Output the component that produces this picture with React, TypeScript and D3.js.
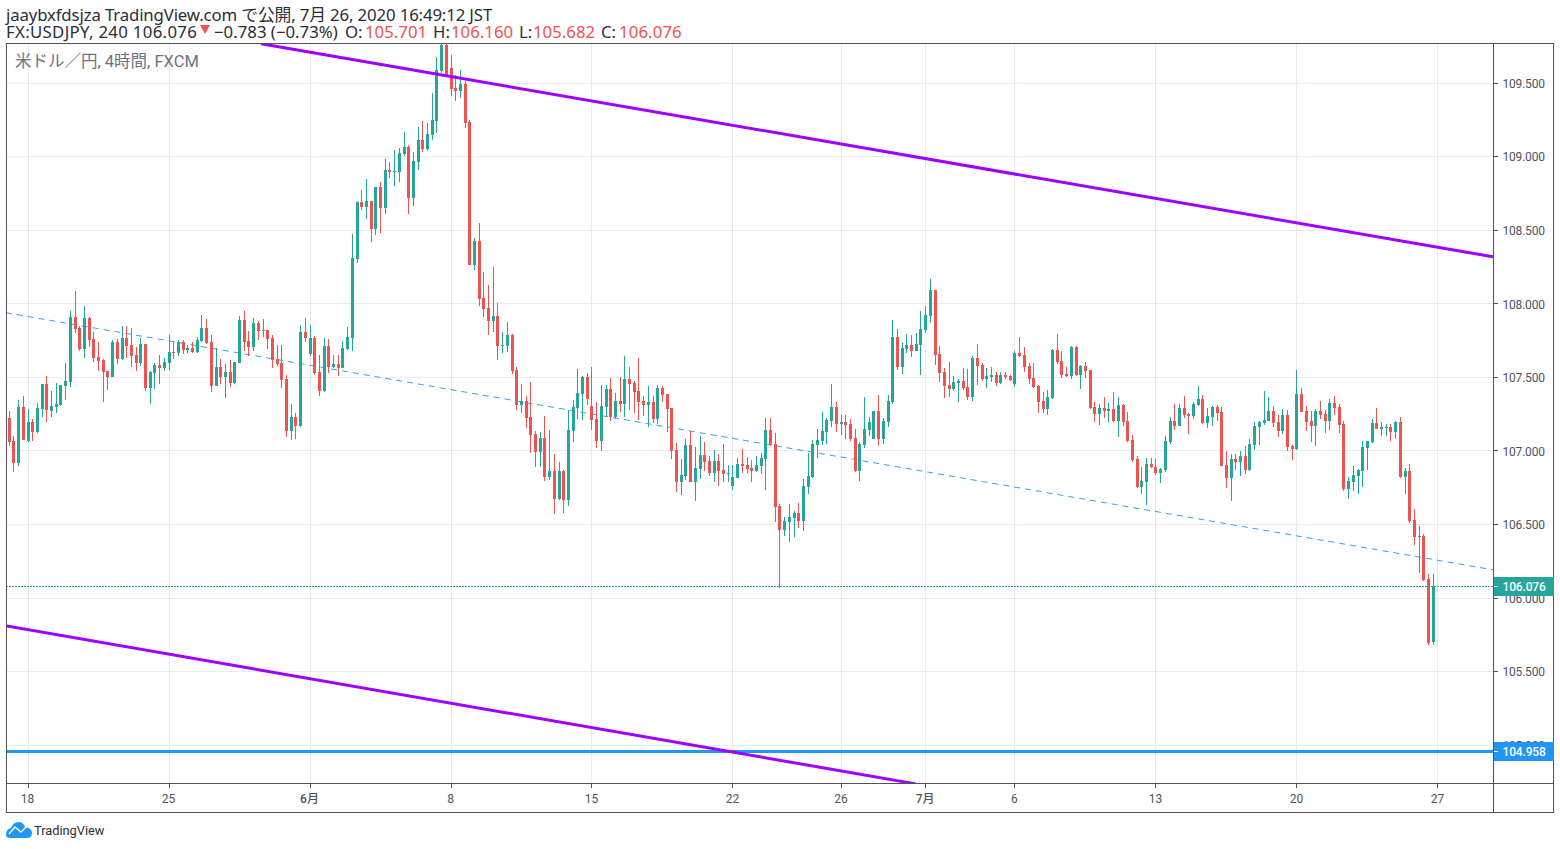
import React from "react";
import * as d3 from "d3";

const directions = (
  "rrgrgrggrg" + "ggggrrgrrr" + "rrgrgrrrgr" + "ggrggrgrgr" + "ggrrgrgrgg" +
  "rrgrgrrrrr" + "grgrgrrgrg" + "rggggrgrgr" + "grgggrggrg" + "gggrrrgrrg" +
  "rrrgrggrrg" + "rrrgrgrgrg" + "gggrrrggrg" + "rgrrrrgrgr" + "rrrggrggrr" +
  "grrgggrrrg" + "ggrrrgggrg" + "ggggggrgrr" + "rggggrgggr" + "ggrggggrrr" +
  "rggrrgrrgg" + "rgrrgrrrrr" + "rggrrrgrgr" + "rrgrgrgrrr" + "rggrrgggrg" +
  "rrggrggrrr" + "grgrgggggr" + "rgrrgrrrgr" + "rgrrrggggg" + "grggrgrgrr" + "grrg"
).split("");

const highs = [
  107.272,107.103,107.347,107.374,107.286,107.218,107.327,107.456,107.510,107.408,
  107.463,107.449,107.599,107.952,108.088,107.850,107.986,107.911,107.810,107.742,
  107.626,107.544,107.755,107.762,107.850,107.850,107.837,107.708,107.769,107.728,
  107.544,107.599,107.653,107.633,107.789,107.742,107.755,107.755,107.721,107.742,
  107.776,107.925,107.898,107.789,107.701,107.626,107.592,107.619,107.606,107.918,
  107.952,107.816,107.905,107.884,107.898,107.823,107.789,107.721,107.721,107.517,
  107.320,107.259,107.857,107.905,107.857,107.782,107.653,107.769,107.762,107.653,
  107.653,107.748,107.844,108.475,108.700,108.774,108.849,108.700,108.795,108.829,
  108.985,108.965,109.046,109.060,109.169,109.080,109.033,109.203,109.244,109.230,
  109.434,109.679,109.780,109.770,109.692,109.556,109.590,109.515,109.250,108.448,
  108.551,108.218,108.129,108.251,108.007,107.810,107.878,107.796,107.572,107.456,
  107.375,107.470,107.137,107.130,107.239,107.143,106.980,106.926,106.871,107.279,
  107.347,107.558,107.511,107.531,107.572,107.334,107.449,107.449,107.497,107.395,
  107.504,107.646,107.572,107.477,107.633,107.375,107.443,107.375,107.449,107.443,
  107.388,107.293,107.055,106.946,107.082,107.137,107.028,107.102,107.062,106.966,
  107.007,106.980,107.048,106.905,106.905,106.953,107.014,106.960,106.939,106.966,
  106.987,107.225,107.225,107.123,106.640,106.552,106.640,106.592,106.647,106.810,
  106.987,107.075,107.150,107.265,107.225,107.456,107.333,107.245,107.245,107.218,
  107.150,107.062,107.367,107.231,107.272,107.381,107.225,107.381,107.891,107.830,
  107.742,107.796,107.789,107.803,107.952,107.986,108.170,108.095,107.714,107.565,
  107.606,107.510,107.490,107.565,107.558,107.646,107.728,107.599,107.565,107.572,
  107.538,107.538,107.538,107.517,107.680,107.775,107.708,107.599,107.599,107.449,
  107.402,107.415,107.694,107.796,107.680,107.572,107.714,107.714,107.585,107.606,
  107.551,107.333,107.320,107.367,107.327,107.401,107.367,107.320,107.266,107.109,
  106.966,106.892,106.953,106.953,106.946,106.885,107.102,107.231,107.320,107.320,
  107.374,107.259,107.333,107.442,107.381,107.293,107.306,107.313,107.300,107.000,
  106.980,106.980,107.000,107.034,107.082,107.198,107.204,107.408,107.367,107.306,
  107.245,107.286,107.279,107.041,107.551,107.429,107.306,107.272,107.286,107.340,
  107.279,107.354,107.374,107.320,107.204,106.824,106.898,106.878,107.068,107.068,
  107.218,107.293,107.197,107.184,107.184,107.204,107.231,106.885,106.912,106.606,
  106.491,106.436,106.164,106.160,
];

const bodyHighs = [
  107.225,107.069,107.300,107.300,107.198,107.198,107.293,107.456,107.456,107.306,
  107.320,107.449,107.476,107.911,107.911,107.837,107.905,107.905,107.762,107.640,
  107.619,107.544,107.742,107.742,107.769,107.769,107.721,107.653,107.728,107.728,
  107.538,107.585,107.585,107.606,107.674,107.674,107.742,107.742,107.701,107.701,
  107.755,107.837,107.837,107.742,107.572,107.572,107.538,107.538,107.606,107.891,
  107.891,107.748,107.871,107.871,107.823,107.823,107.769,107.626,107.599,107.490,
  107.232,107.232,107.810,107.810,107.769,107.769,107.538,107.714,107.714,107.592,
  107.592,107.701,107.776,108.313,108.693,108.693,108.700,108.700,108.795,108.795,
  108.910,108.910,108.904,109.026,109.067,109.067,108.972,109.114,109.114,109.155,
  109.250,109.590,109.760,109.760,109.604,109.468,109.495,109.495,109.237,108.428,
  108.428,108.041,107.973,107.918,107.918,107.721,107.789,107.789,107.551,107.341,
  107.341,107.232,107.116,107.089,107.089,106.865,106.865,106.865,106.865,107.143,
  107.300,107.395,107.504,107.504,107.307,107.218,107.307,107.422,107.422,107.341,
  107.341,107.490,107.490,107.463,107.409,107.341,107.334,107.334,107.429,107.429,
  107.388,107.293,107.007,106.838,107.041,107.041,106.885,106.973,106.973,106.932,
  106.932,106.932,106.871,106.851,106.824,106.912,106.912,106.905,106.885,106.905,
  106.953,107.143,107.143,107.048,106.626,106.525,106.552,106.579,106.579,106.762,
  106.830,107.048,107.075,107.136,107.211,107.299,107.299,107.198,107.198,107.184,
  107.089,107.048,107.150,107.198,107.272,107.272,107.204,107.340,107.776,107.776,
  107.701,107.721,107.721,107.728,107.830,107.925,108.095,108.095,107.660,107.538,
  107.449,107.470,107.476,107.476,107.436,107.633,107.633,107.585,107.510,107.517,
  107.517,107.517,107.517,107.510,107.667,107.667,107.653,107.578,107.497,107.442,
  107.340,107.368,107.687,107.687,107.612,107.524,107.708,107.708,107.578,107.578,
  107.551,107.300,107.293,107.293,107.286,107.286,107.313,107.313,107.204,107.075,
  106.946,106.796,106.912,106.912,106.892,106.878,107.068,107.204,107.204,107.293,
  107.293,107.252,107.320,107.354,107.354,107.238,107.300,107.300,107.266,106.905,
  106.946,106.946,106.966,106.966,107.048,107.170,107.198,107.211,107.272,107.272,
  107.198,107.245,107.245,107.034,107.388,107.388,107.272,107.204,107.272,107.272,
  107.252,107.327,107.327,107.299,107.184,106.796,106.837,106.871,107.028,107.068,
  107.191,107.191,107.164,107.164,107.164,107.197,107.197,106.864,106.864,106.531,
  106.423,106.423,106.130,106.076,
];

const bodyLows = [
  107.062,106.919,106.919,107.075,107.069,107.130,107.130,107.286,107.275,107.272,
  107.300,107.313,107.442,107.470,107.830,107.694,107.694,107.755,107.633,107.612,
  107.538,107.504,107.504,107.626,107.626,107.714,107.646,107.599,107.599,107.429,
  107.429,107.531,107.565,107.565,107.599,107.667,107.667,107.687,107.687,107.674,
  107.674,107.748,107.735,107.442,107.442,107.504,107.504,107.463,107.463,107.599,
  107.742,107.708,107.708,107.816,107.816,107.762,107.619,107.592,107.483,107.137,
  107.137,107.171,107.171,107.769,107.660,107.531,107.408,107.408,107.572,107.572,
  107.565,107.565,107.694,107.769,108.306,108.659,108.659,108.509,108.509,108.652,
  108.652,108.897,108.897,108.897,109.019,108.720,108.720,108.965,109.053,109.053,
  109.148,109.244,109.583,109.556,109.461,109.448,109.448,109.230,108.265,108.265,
  108.034,107.966,107.884,107.884,107.714,107.714,107.714,107.544,107.313,107.313,
  107.225,107.109,106.994,106.994,106.824,106.824,106.674,106.674,106.668,106.668,
  107.137,107.293,107.388,107.354,107.211,107.069,107.069,107.300,107.232,107.232,
  107.320,107.320,107.456,107.402,107.334,107.313,107.313,107.218,107.218,107.381,
  107.286,107.001,106.790,106.790,106.831,106.790,106.790,106.878,106.926,106.851,
  106.851,106.864,106.844,106.844,106.762,106.817,106.898,106.878,106.864,106.864,
  106.898,106.946,107.041,106.620,106.463,106.463,106.518,106.545,106.525,106.525,
  106.756,106.824,107.041,107.068,107.130,107.204,107.184,107.184,107.177,107.082,
  106.864,106.864,107.041,107.143,107.082,107.082,107.082,107.198,107.334,107.572,
  107.572,107.694,107.680,107.680,107.721,107.823,107.918,107.653,107.531,107.442,
  107.422,107.422,107.463,107.429,107.368,107.368,107.578,107.490,107.490,107.504,
  107.463,107.463,107.504,107.483,107.456,107.646,107.572,107.490,107.436,107.334,
  107.286,107.286,107.361,107.606,107.517,107.510,107.510,107.517,107.517,107.544,
  107.293,107.252,107.252,107.272,107.272,107.204,107.204,107.198,107.068,106.939,
  106.756,106.756,106.790,106.892,106.851,106.851,106.871,107.062,107.170,107.170,
  107.245,107.238,107.238,107.313,107.191,107.191,107.232,107.259,106.898,106.817,
  106.817,106.926,106.926,106.871,106.871,107.041,107.164,107.191,107.204,107.191,
  107.136,107.136,107.028,107.014,107.014,107.265,107.197,107.170,107.170,107.245,
  107.204,107.204,107.293,107.177,106.742,106.742,106.790,106.830,106.864,107.021,
  107.062,107.150,107.150,107.157,107.129,107.129,106.824,106.824,106.525,106.416,
  106.416,106.123,105.695,105.701,
];

const lows = [
  107.030,106.858,106.894,107.075,107.062,107.069,107.123,107.232,107.198,107.232,
  107.259,107.306,107.347,107.436,107.803,107.680,107.633,107.708,107.606,107.544,
  107.334,107.415,107.504,107.592,107.619,107.633,107.572,107.544,107.578,107.408,
  107.320,107.422,107.456,107.544,107.551,107.626,107.646,107.660,107.667,107.667,
  107.667,107.742,107.728,107.402,107.442,107.456,107.361,107.436,107.456,107.599,
  107.680,107.646,107.680,107.755,107.776,107.694,107.565,107.578,107.429,107.096,
  107.075,107.082,107.164,107.742,107.646,107.517,107.374,107.402,107.531,107.565,
  107.510,107.565,107.687,107.680,108.279,108.639,108.577,108.421,108.469,108.482,
  108.611,108.856,108.802,108.829,109.006,108.611,108.666,108.910,109.033,109.040,
  109.114,109.162,109.570,109.556,109.413,109.379,109.400,109.196,108.265,108.231,
  107.986,107.912,107.789,107.810,107.619,107.667,107.674,107.524,107.279,107.259,
  107.157,106.987,106.892,106.892,106.797,106.804,106.572,106.668,106.579,106.627,
  107.062,107.218,107.211,107.313,107.143,107.021,107.001,107.232,107.205,107.218,
  107.266,107.232,107.279,107.259,107.211,107.239,107.164,107.191,107.184,107.334,
  107.130,106.946,106.722,106.702,106.804,106.790,106.661,106.810,106.864,106.830,
  106.790,106.762,106.790,106.790,106.735,106.817,106.851,106.851,106.790,106.858,
  106.844,106.735,107.034,106.518,106.069,106.423,106.382,106.416,106.477,106.457,
  106.708,106.817,106.953,107.041,107.048,107.164,107.130,107.109,107.082,107.068,
  106.858,106.796,107.021,107.102,107.082,107.034,107.048,107.164,107.320,107.551,
  107.524,107.667,107.640,107.680,107.517,107.803,107.871,107.585,107.470,107.361,
  107.368,107.408,107.334,107.415,107.347,107.340,107.449,107.476,107.429,107.470,
  107.442,107.456,107.490,107.476,107.436,107.640,107.538,107.456,107.429,107.259,
  107.259,107.245,107.354,107.592,107.497,107.504,107.490,107.510,107.422,107.497,
  107.286,107.198,107.177,107.225,107.198,107.198,107.096,107.170,107.062,106.926,
  106.749,106.708,106.633,106.885,106.837,106.783,106.858,107.048,107.143,107.170,
  107.225,107.116,107.218,107.306,107.184,107.157,107.170,107.204,106.898,106.749,
  106.661,106.871,106.830,106.844,106.864,107.007,107.041,107.177,107.204,107.164,
  107.096,107.116,107.000,106.939,107.007,107.265,107.136,107.062,107.034,107.218,
  107.123,107.143,107.245,107.123,106.728,106.674,106.728,106.708,106.756,106.871,
  107.055,107.150,107.102,107.102,107.068,107.082,106.817,106.708,106.511,106.361,
  106.171,106.117,105.682,105.682,
];

const priceTicks = [109.5, 109, 108.5, 108, 107.5, 107, 106.5, 106, 105.5, 105];
const timeTicks = [
  { bar: 4, label: "18", bold: false },
  { bar: 34, label: "25", bold: false },
  { bar: 64, label: "6月", bold: true },
  { bar: 94, label: "8", bold: false },
  { bar: 124, label: "15", bold: false },
  { bar: 154, label: "22", bold: false },
  { bar: 177.1, label: "26", bold: false },
  { bar: 195, label: "7月", bold: true },
  { bar: 214, label: "6", bold: false },
  { bar: 244, label: "13", bold: false },
  { bar: 274, label: "20", bold: false },
  { bar: 304, label: "27", bold: false },
];

const upperTrendBars = [53.6, 315.7];
const upperTrendPrices = [109.767, 108.319];
const lowerTrendBars = [-0.68, 192.9];
const lowerTrendPrices = [105.811, 104.737];
const midTrendBars = [-0.68, 315.7];
const midTrendPrices = [107.939, 106.192];
const lastPrice = 106.076;
const supportPrice = 104.958;

const UP = "#26a69a";
const DOWN = "#ef5350";
const GRID = "#e4ecf3";
const FRAME = "#50535e";
const BLUE = "#2196f3";
const PURPLE = "#a000ff";
const FONT = "Roboto, 'Noto Sans CJK JP', sans-serif";
const HEAD_FONT = "'Noto Sans', 'Noto Sans CJK JP', sans-serif";
const HEAD_SIZE = 16.8;

const plot = { left: 6, right: 1493, top: 43, bottom: 783, outerRight: 1553, outerBottom: 812 };

const xScale = d3.scaleLinear().domain([0, 303]).range([9.21, 1433.28]);
const yScale = d3.scaleLinear().domain([105, 109.5]).range([745.2, 83.0]);
const snap = (v: number) => Math.floor(v) + 0.5;

const trendLine = d3
  .line<[number, number]>()
  .x((d) => xScale(d[0]))
  .y((d) => yScale(d[1]));

function zip(bars: number[], prices: number[]): [number, number][] {
  return bars.map((b, i) => [b, prices[i]]);
}

export default function App() {
  return (
    <svg
      width={1560}
      height={849}
      style={{ position: "absolute", left: 0, top: 0, display: "block", background: "#fff", fontFamily: FONT }}
    >
      <defs>
        <clipPath id="plot-clip">
          <rect x={plot.left + 1} y={plot.top + 1} width={plot.right - plot.left - 1} height={plot.bottom - plot.top - 1} />
        </clipPath>
      </defs>

      <g fontFamily={HEAD_FONT} fontSize={HEAD_SIZE} fill="#2a2e39">
        <text x={6} y={21} letterSpacing={-0.14}>jaaybxfdsjza TradingView.com で公開, 7月 26, 2020 16:49:12 JST</text>
        <text x={6} y={38} letterSpacing={0.32}>FX:USDJPY, 240 106.076</text>
        <path d="M200 25 L210 25 L205 34 Z" fill={DOWN} />
        <text x={214} y={38}>−0.783 (−0.73%)</text>
        <text x={345} y={38}>O:</text>
        <text x={365} y={38} fill={DOWN}>105.701</text>
        <text x={433} y={38}>H:</text>
        <text x={451} y={38} fill={DOWN}>106.160</text>
        <text x={519} y={38}>L:</text>
        <text x={533} y={38} fill={DOWN}>105.682</text>
        <text x={601} y={38}>C:</text>
        <text x={619} y={38} letterSpacing={0.1} fill={DOWN}>106.076</text>
      </g>

      <g shapeRendering="crispEdges">
        {priceTicks.map((p) => (
          <line key={p} x1={plot.left} x2={plot.right} y1={snap(yScale(p))} y2={snap(yScale(p))} stroke={GRID} />
        ))}
        {timeTicks.map((t) => (
          <line
            key={t.label}
            x1={snap(xScale(t.bar))}
            x2={snap(xScale(t.bar))}
            y1={plot.top}
            y2={plot.bottom}
            stroke={GRID}
          />
        ))}
      </g>

      <text x={15} y={67} fontSize={16.5} fill="#6f727d">米ドル／円, 4時間, FXCM</text>

      <g clipPath="url(#plot-clip)">
        <path
          d={trendLine(zip(midTrendBars, midTrendPrices)) as string}
          fill="none"
          stroke={BLUE}
          strokeWidth={1}
          strokeDasharray="6 5"
          opacity={0.9}
        />
        <g shapeRendering="crispEdges">
          {highs.map((h, i) => {
            const px = Math.floor(xScale(i));
            const color = directions[i] === "g" ? UP : DOWN;
            const wickTop = Math.round(yScale(h));
            const wickBottom = Math.round(yScale(lows[i]));
            const bodyTop = Math.round(yScale(bodyHighs[i]));
            const bodyBottom = Math.round(yScale(bodyLows[i]));
            return (
              <g key={i} fill={color}>
                <rect x={px} y={wickTop} width={1} height={Math.max(1, wickBottom - wickTop)} />
                <rect x={px - 1} y={bodyTop} width={3} height={Math.max(1, bodyBottom - bodyTop)} />
              </g>
            );
          })}
          <line
            x1={plot.left}
            x2={plot.right}
            y1={snap(yScale(lastPrice))}
            y2={snap(yScale(lastPrice))}
            stroke={UP}
            strokeDasharray="2 1"
          />
          <line
            x1={plot.left}
            x2={plot.right}
            y1={snap(yScale(supportPrice))}
            y2={snap(yScale(supportPrice))}
            stroke={BLUE}
            strokeWidth={3}
          />
        </g>
        <path d={trendLine(zip(upperTrendBars, upperTrendPrices)) as string} fill="none" stroke={PURPLE} strokeWidth={3} />
        <path d={trendLine(zip(lowerTrendBars, lowerTrendPrices)) as string} fill="none" stroke={PURPLE} strokeWidth={3} />
      </g>

      <g shapeRendering="crispEdges" stroke={FRAME}>
        <rect x={plot.left + 0.5} y={plot.top + 0.5} width={plot.outerRight - plot.left} height={plot.outerBottom - plot.top} fill="none" />
        <line x1={plot.right + 0.5} x2={plot.right + 0.5} y1={plot.top} y2={plot.outerBottom} />
        <line x1={plot.left} x2={plot.outerRight} y1={plot.bottom + 0.5} y2={plot.bottom + 0.5} />
        {priceTicks.map((p) => (
          <line key={p} x1={plot.right} x2={plot.right + 5} y1={snap(yScale(p))} y2={snap(yScale(p))} />
        ))}
        {timeTicks.map((t) => (
          <line
            key={t.label}
            x1={snap(xScale(t.bar))}
            x2={snap(xScale(t.bar))}
            y1={plot.bottom}
            y2={plot.bottom + 5}
          />
        ))}
      </g>

      <g fontSize={12} fill={FRAME}>
        {priceTicks.map((p) => (
          <text key={p} x={1502.5} y={yScale(p) + 4.8} letterSpacing={-0.2}>
            {d3.format(".3f")(p)}
          </text>
        ))}
        {timeTicks.map((t) => (
          <text
            key={t.label}
            x={xScale(t.bar) - 0.5}
            y={803}
            textAnchor="middle"
            fontWeight={t.bold ? 500 : 400}
          >
            {t.label}
          </text>
        ))}
      </g>

      <g shapeRendering="crispEdges">
        <rect x={plot.right + 1} y={577} width={60} height={19} fill={UP} />
        <line x1={plot.right + 1} x2={plot.right + 5} y1={586.5} y2={586.5} stroke="#fff" />
        <rect x={plot.right + 1} y={742} width={60} height={19} fill={BLUE} />
        <line x1={plot.right + 1} x2={plot.right + 5} y1={751.5} y2={751.5} stroke="#fff" />
      </g>
      <text x={1502.5} y={591} fontSize={12} fontWeight={500} fill="#fff" letterSpacing={-0.15}>{d3.format(".3f")(lastPrice)}</text>
      <text x={1502.5} y={756} fontSize={12} fontWeight={500} fill="#fff" letterSpacing={-0.15}>{d3.format(".3f")(supportPrice)}</text>

      <path
        d="M6 835 Q6 829 11 828 Q13 822 19 822 Q23 822 25 827 Q32 828 32 833 Q32 838 27 838 L10 838 Q6 838 6 835 Z"
        fill={BLUE}
      />
      <path d="M9 834 L15 827 L21 832 L27 826" fill="none" stroke="#fff" strokeWidth={1.3} />
      <text x={34} y={835} fontSize={12.8} fill="#2a2e39">TradingView</text>
    </svg>
  );
}
